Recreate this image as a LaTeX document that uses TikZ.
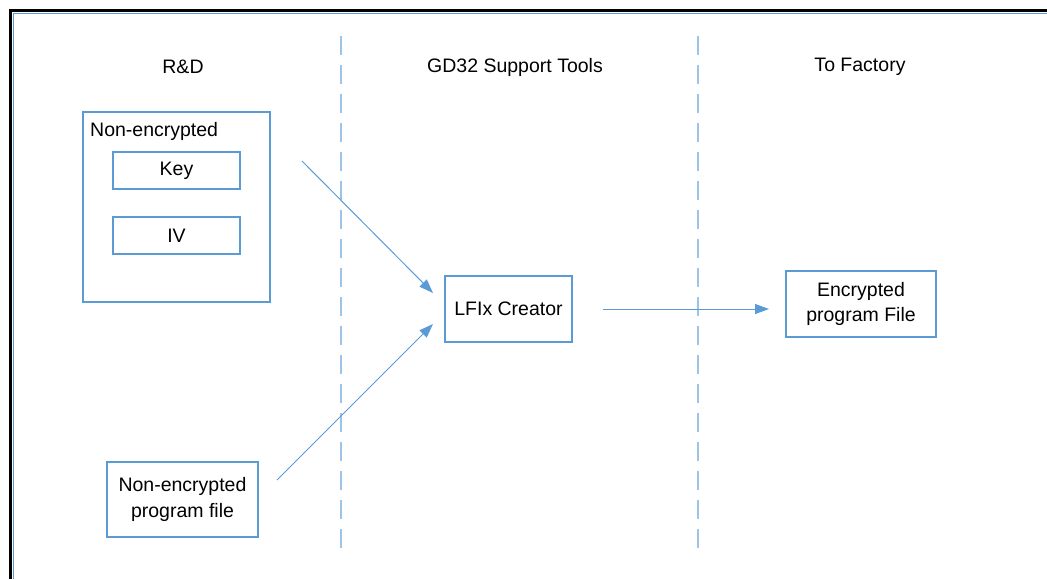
\documentclass[tikz,border=0pt]{standalone}
\usepackage{fontspec}
\setmainfont{Liberation Sans}
\usetikzlibrary{arrows.meta}
\definecolor{boxblue}{HTML}{5B9BD5}
\definecolor{dashblue}{HTML}{9DC3E6}
\begin{document}
\begin{tikzpicture}[x=1pt,y=-1pt,
  txt/.style={font=\fontsize{19.5}{25}\selectfont, inner sep=0pt},
  box/.style={draw=boxblue, line width=1.1pt, inner sep=0pt, align=center, font=\fontsize{19.5}{25.5}\selectfont},
  lane/.style={draw=dashblue, line width=2pt, dash pattern=on 19pt off 10pt},
  flow/.style={draw=boxblue, line width=1pt, -{Triangle[length=14pt,width=10pt]}}]
\useasboundingbox (0,0) rectangle (1047,579);
% frame
\draw[line width=3pt] (10.5,579) -- (10.5,10.5) -- (1047,10.5);
\draw[boxblue, line width=1pt] (13.5,579) -- (13.5,13.5) -- (1047,13.5);
% lanes
\coordinate (l1t) at (341,36); \coordinate (l1b) at (341,553);
\coordinate (l2t) at (698,36); \coordinate (l2b) at (698,553);
\draw[lane] (l1t) -- (l1b);
\draw[lane] (l2t) -- (l2b);
% headers
\node[txt] (h1) at (183,67) {R\&D};
\node[txt] (h2) at (515,67) {GD32 Support Tools};
\node[txt] (h3) at (860,67) {To Factory};
% boxes
\node[box, minimum width=187pt, minimum height=190pt] (grp) at (176.5,207) {};
\node[txt, anchor=west] (grpl) at (90,131) {Non-encrypted};
\node[box, minimum width=127pt, minimum height=37pt] (key) at (176.5,170.5) {Key};
\node[box, minimum width=127pt, minimum height=37pt] (iv) at (176.5,235.5) {IV};
\node[box, minimum width=151pt, minimum height=75pt] (src) at (182.5,499.5) {Non-encrypted\\program file};
\node[box, minimum width=127pt, minimum height=66pt] (lfix) at (508.5,309) {LFIx Creator};
\node[box, minimum width=150pt, minimum height=66pt] (enc) at (861,304) {Encrypted\\program File};
% connectors
\coordinate (a1s) at (302,161);
\coordinate (a1e) at (433,293);
\coordinate (a2s) at (277,480);
\coordinate (a2e) at (433,324);
\coordinate (a3s) at (603,309);
\coordinate (a3e) at (769,309);
\draw[flow] (a1s) -- (a1e);
\draw[flow] (a2s) -- (a2e);
\draw[flow] (a3s) -- (a3e);
\end{tikzpicture}
\end{document}
